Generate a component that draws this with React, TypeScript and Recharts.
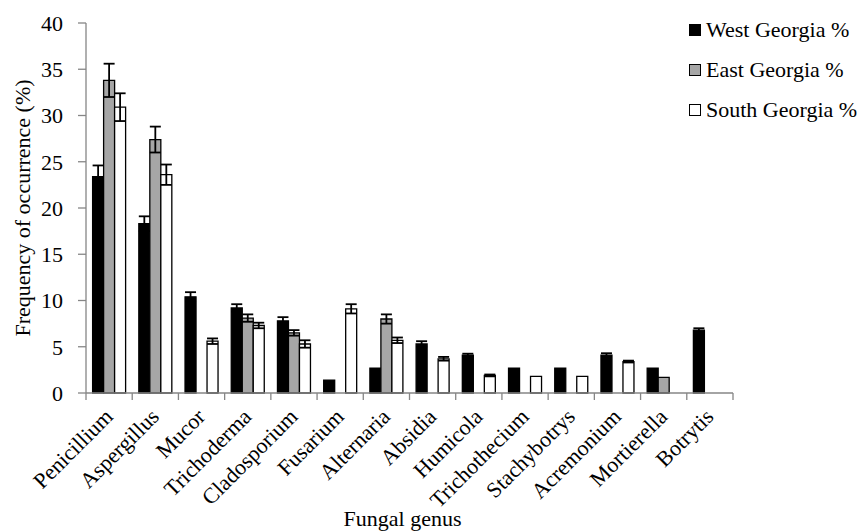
import React from "react";
import { BarChart, Bar, XAxis, YAxis, ErrorBar, Legend } from "recharts";

const categories = [
  "Penicillium", "Aspergillus", "Mucor", "Trichoderma", "Cladosporium", "Fusarium", "Alternaria",
  "Absidia", "Humicola", "Trichothecium", "Stachybotrys", "Acremonium", "Mortierella", "Botrytis",
];
const westValues = [23.4, 18.3, 10.4, 9.2, 7.8, 1.4, 2.7, 5.3, 4.1, 2.7, 2.7, 4.1, 2.7, 6.8];
const westErrors = [1.2, 0.8, 0.5, 0.4, 0.4, null, null, 0.3, 0.15, null, null, 0.2, null, 0.2];
const eastValues = [33.8, 27.4, 0, 8.1, 6.5, 0, 8.0, 0, 0, 0, 0, 0, 1.7, 0];
const eastErrors = [1.8, 1.4, null, 0.4, 0.3, null, 0.5, null, null, null, null, null, null, null];
const southValues = [30.9, 23.6, 5.6, 7.3, 5.3, 9.1, 5.7, 3.7, 1.9, 1.8, 1.8, 3.4, 0, 0];
const southErrors = [1.5, 1.1, 0.3, 0.3, 0.4, 0.5, 0.3, 0.2, 0.1, null, null, 0.1, null, null];
const yTicks = [0, 5, 10, 15, 20, 25, 30, 35, 40];

const seriesNames = ["West Georgia %", "East Georgia %", "South Georgia %"];
const seriesFills = ["#000000", "#A6A6A6", "#FFFFFF"];

const data = categories.map((c, i) => ({
  name: c,
  west: westValues[i],
  westErr: westErrors[i],
  east: eastValues[i],
  eastErr: eastErrors[i],
  south: southValues[i],
  southErr: southErrors[i],
}));

const FONT = "Liberation Serif";
const AXIS = "#868686";

const XTick = (props: any) => {
  const { x, y, payload, index } = props;
  const off = payload && payload.offset != null ? payload.offset : 0;
  const last = index === categories.length - 1;
  return (
    <g>
      <line x1={x - off} x2={x - off} y1={y} y2={y + 7} stroke={AXIS} strokeWidth={1.3} />
      {last && <line x1={x + off} x2={x + off} y1={y} y2={y + 7} stroke={AXIS} strokeWidth={1.3} />}
      <text
        transform={`translate(${x + 5},${y + 25}) rotate(-45)`}
        textAnchor="end"
        fontFamily={FONT}
        fontSize={22}
        fill="#000"
      >
        {payload.value}
      </text>
    </g>
  );
};

const LegendContent = (props: any) => {
  const payload = [...(props.payload || [])].sort(
    (a: any, b: any) => seriesNames.indexOf(a.value) - seriesNames.indexOf(b.value)
  );
  return (
    <div style={{ fontFamily: FONT, fontSize: 22, color: "#000" }}>
      {payload.map((p: any, i: number) => (
        <div key={i} style={{ display: "flex", alignItems: "center", height: 40, whiteSpace: "nowrap" }}>
          <span
            style={{
              display: "inline-block",
              width: 12,
              height: 12,
              boxSizing: "border-box",
              border: "1.3px solid #000",
              background: seriesFills[seriesNames.indexOf(p.value)],
              marginRight: 5,
            }}
          />
          <span>{p.value}</span>
        </div>
      ))}
    </div>
  );
};

const YLabel = (props: any) => {
  const vb = props.viewBox || {};
  const cy = vb.y + vb.height / 2;
  return (
    <text
      x={30}
      y={cy}
      transform={`rotate(-90, 30, ${cy})`}
      textAnchor="middle"
      fontFamily={FONT}
      fontSize={22}
      fill="#000"
    >
      Frequency of occurrence (%)
    </text>
  );
};

const XLabel = (props: any) => {
  const vb = props.viewBox || {};
  return (
    <text
      x={vb.x + vb.width / 2 - 7}
      y={526}
      textAnchor="middle"
      fontFamily={FONT}
      fontSize={22}
      fill="#000"
    >
      Fungal genus
    </text>
  );
};

export default function App() {
  return (
    <div style={{ position: "absolute", left: 0, top: 0, background: "#fff" }}>
      <BarChart
        width={863}
        height={531}
        data={data}
        margin={{ top: 23, right: 130, left: 0, bottom: 0 }}
        barGap={0}
        barCategoryGap="14.3%"
      >
        <XAxis
          dataKey="name"
          interval={0}
          height={138}
          tickSize={0}
          tickMargin={0}
          tickLine={false}
          axisLine={{ stroke: AXIS, strokeWidth: 1.3 }}
          tick={<XTick />}
          label={<XLabel />}
        />
        <YAxis
          domain={[0, 40]}
          ticks={yTicks}
          width={86}
          tickSize={8}
          tickMargin={15}
          axisLine={{ stroke: AXIS, strokeWidth: 1.3 }}
          tickLine={{ stroke: AXIS, strokeWidth: 1.3 }}
          tick={{ fontFamily: FONT, fontSize: 22, fill: "#000" }}
          label={<YLabel />}
        />
        <Legend
          layout="vertical"
          verticalAlign="middle"
          align="center"
          content={<LegendContent />}
          wrapperStyle={{ position: "absolute", top: 10, left: 689, width: 174 }}
        />
        <Bar dataKey="west" name={seriesNames[0]} fill={seriesFills[0]} stroke="#000" strokeWidth={1.3} isAnimationActive={false}>
          <ErrorBar dataKey="westErr" width={5.5} stroke="#000" strokeWidth={1.8} direction="y" />
        </Bar>
        <Bar dataKey="east" name={seriesNames[1]} fill={seriesFills[1]} stroke="#000" strokeWidth={1.3} isAnimationActive={false}>
          <ErrorBar dataKey="eastErr" width={5.5} stroke="#000" strokeWidth={1.8} direction="y" />
        </Bar>
        <Bar dataKey="south" name={seriesNames[2]} fill={seriesFills[2]} stroke="#000" strokeWidth={1.3} isAnimationActive={false}>
          <ErrorBar dataKey="southErr" width={5.5} stroke="#000" strokeWidth={1.8} direction="y" />
        </Bar>
      </BarChart>
    </div>
  );
}
